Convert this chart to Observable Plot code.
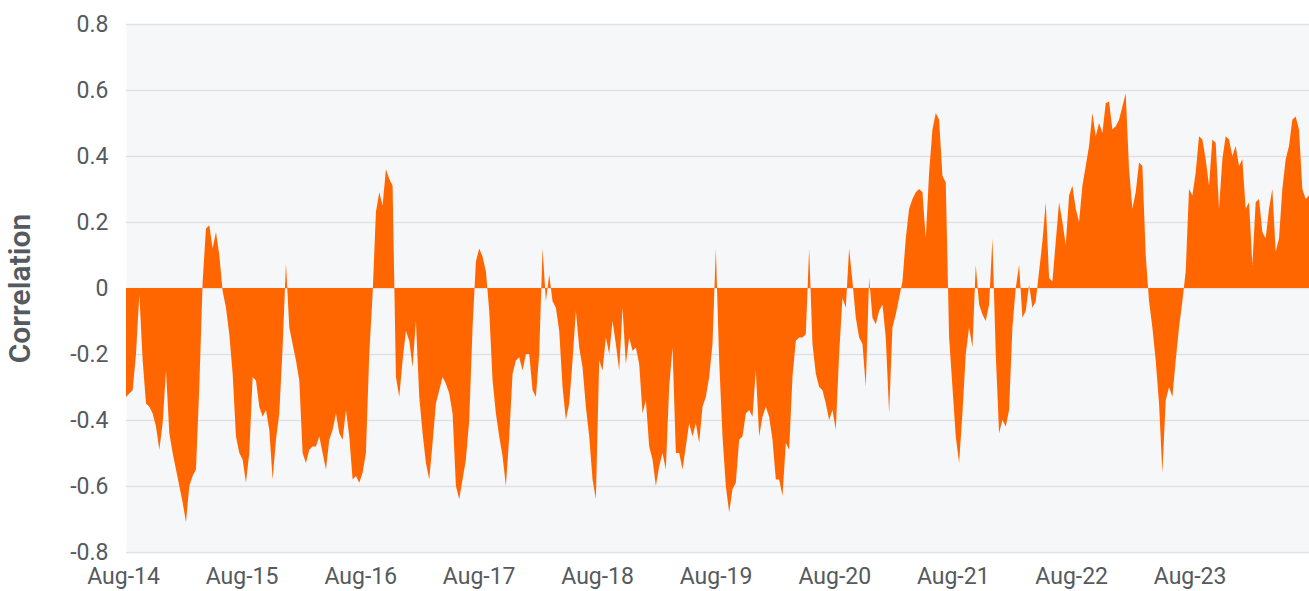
<!DOCTYPE html>
<html><head><meta charset="utf-8">
<script src="https://cdn.jsdelivr.net/npm/d3@7"></script>
<script src="https://cdn.jsdelivr.net/npm/@observablehq/plot@0.6"></script>
<style>
body{margin:0;background:#fff}
g[aria-label="y-axis label"] text{font-size:30px;font-weight:600;fill:#555a5e}
</style>
</head><body><div id="chart"></div>
<script>
// Series: regular sampling between these two dates
const startDate = "2014-08-10";
const endDate = "2024-08-03";
const correlation = [
-0.33,-0.32,-0.31,-0.2,-0.02,-0.22,-0.35,-0.36,-0.38,-0.42,
-0.49,-0.41,-0.25,-0.44,-0.5,-0.55,-0.6,-0.65,-0.71,-0.6,
-0.57,-0.55,-0.3,0.02,0.18,0.19,0.12,0.17,0.1,-0.01,
-0.06,-0.14,-0.26,-0.45,-0.5,-0.52,-0.59,-0.5,-0.27,-0.28,
-0.36,-0.39,-0.37,-0.43,-0.58,-0.46,-0.38,-0.18,0.075,-0.12,
-0.17,-0.22,-0.28,-0.5,-0.53,-0.49,-0.48,-0.48,-0.45,-0.5,
-0.55,-0.46,-0.43,-0.38,-0.44,-0.46,-0.37,-0.45,-0.58,-0.57,
-0.59,-0.56,-0.5,-0.2,-0.02,0.23,0.29,0.25,0.36,0.33,
0.31,-0.27,-0.33,-0.22,-0.13,-0.16,-0.24,-0.1,-0.33,-0.44,
-0.53,-0.58,-0.47,-0.35,-0.31,-0.27,-0.29,-0.32,-0.38,-0.6,
-0.64,-0.58,-0.52,-0.4,-0.12,0.08,0.12,0.095,0.05,-0.07,
-0.28,-0.38,-0.45,-0.51,-0.6,-0.45,-0.26,-0.22,-0.21,-0.25,
-0.2,-0.2,-0.31,-0.33,-0.2,0.12,-0.04,0.04,-0.04,-0.06,
-0.13,-0.3,-0.4,-0.35,-0.22,-0.07,-0.18,-0.24,-0.36,-0.45,
-0.58,-0.64,-0.22,-0.25,-0.15,-0.2,-0.1,-0.17,-0.25,-0.06,
-0.23,-0.15,-0.19,-0.18,-0.23,-0.38,-0.34,-0.48,-0.52,-0.6,
-0.54,-0.5,-0.55,-0.3,-0.18,-0.5,-0.5,-0.55,-0.48,-0.41,
-0.45,-0.41,-0.47,-0.36,-0.33,-0.27,-0.17,0.12,-0.22,-0.45,
-0.6,-0.68,-0.61,-0.59,-0.46,-0.45,-0.38,-0.37,-0.39,-0.25,
-0.45,-0.39,-0.36,-0.39,-0.46,-0.58,-0.58,-0.63,-0.47,-0.49,
-0.27,-0.16,-0.15,-0.15,-0.14,0.12,-0.17,-0.26,-0.3,-0.31,
-0.35,-0.4,-0.37,-0.43,-0.2,-0.03,-0.06,0.12,0.02,-0.09,
-0.15,-0.17,-0.3,0.03,-0.09,-0.11,-0.07,-0.05,-0.15,-0.38,
-0.12,-0.08,-0.03,0.02,0.15,0.24,0.27,0.29,0.3,0.29,
0.15,0.35,0.48,0.53,0.51,0.34,0.32,-0.15,-0.3,-0.45,
-0.53,-0.38,-0.2,-0.12,-0.18,0.07,-0.05,-0.08,-0.1,-0.05,
0.15,-0.2,-0.44,-0.4,-0.42,-0.37,-0.12,0.0,0.07,-0.09,
-0.07,0.01,-0.06,-0.04,0.05,0.14,0.26,0.03,0.02,0.14,
0.26,0.2,0.13,0.28,0.31,0.24,0.2,0.31,0.37,0.43,
0.53,0.46,0.5,0.47,0.56,0.565,0.48,0.49,0.51,0.55,
0.59,0.36,0.24,0.29,0.38,0.37,0.1,-0.04,-0.12,-0.22,
-0.35,-0.56,-0.34,-0.3,-0.33,-0.22,-0.12,-0.04,0.05,0.3,
0.28,0.35,0.46,0.45,0.39,0.31,0.45,0.44,0.24,0.39,
0.46,0.45,0.4,0.43,0.37,0.39,0.24,0.26,0.07,0.26,
0.27,0.17,0.15,0.24,0.3,0.11,0.15,0.3,0.39,0.43,
0.51,0.52,0.48,0.3,0.27,0.28
];
const yTicks = [-0.8, -0.6, -0.4, -0.2, 0, 0.2, 0.4, 0.6, 0.8];
const xTickDates = ["2014-08-01","2015-08-01","2016-08-01","2017-08-01","2018-08-01",
  "2019-08-01","2020-08-01","2021-08-01","2022-08-01","2023-08-01"];
const yLabel = "Correlation";

const t0 = new Date(startDate), t1 = new Date(endDate);
const step = (t1 - t0) / (correlation.length - 1);
const data = correlation.map((v, i) => ({date: new Date(+t0 + i * step), value: v}));

const chart = Plot.plot({
  width: 1309, height: 591,
  marginLeft: 126, marginRight: 0, marginTop: 24, marginBottom: 39,
  style: {fontFamily: "Roboto", fontSize: "23px", color: "#555a5e", background: "#fff"},
  x: {type: "utc", domain: [t0, t1], ticks: xTickDates.map(d => new Date(d)),
      tickFormat: d3.utcFormat("%b-%y"), tickSize: 0, tickPadding: 15, label: null},
  y: {domain: [-0.8, 0.8], ticks: yTicks, tickFormat: d => d === 0 ? "0" : d.toFixed(1),
      tickSize: 0, tickPadding: 18, label: yLabel, labelAnchor: "center", labelArrow: "none", labelOffset: 118},
  marks: [
    Plot.frame({fill: "#f6f7f9", stroke: null}),
    Plot.gridY(yTicks, {stroke: "#dfe1e5", strokeOpacity: 1, strokeWidth: 1.5}),
    Plot.areaY(data, {x: "date", y: "value", fill: "#ff6600"})
  ]
});
document.getElementById("chart").append(chart);
</script>
</body></html>
